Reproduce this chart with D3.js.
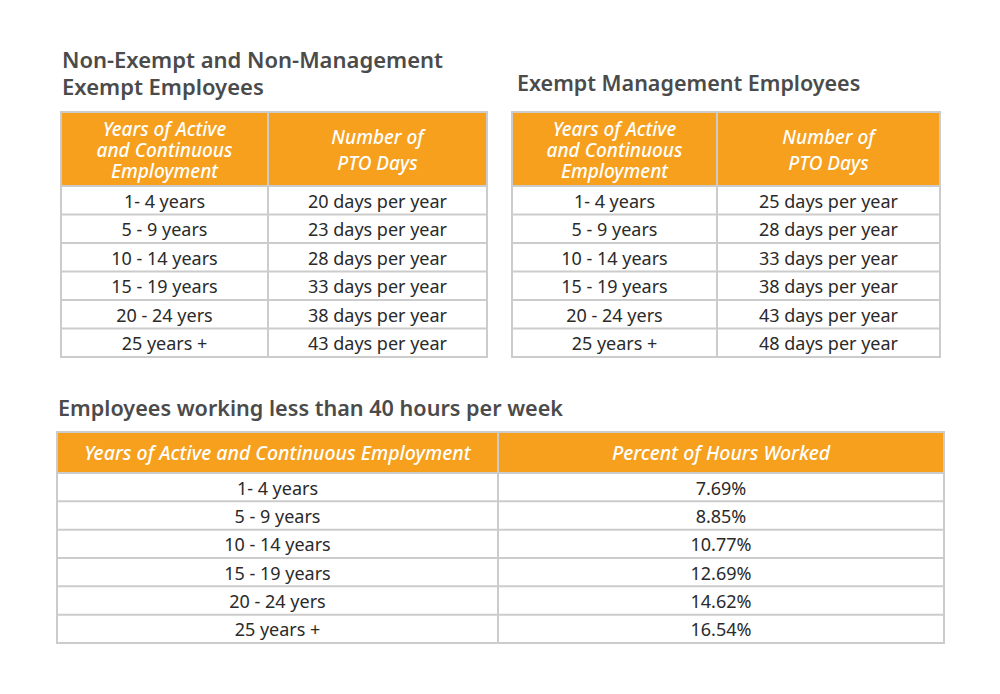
<!DOCTYPE html>
<html>
<head>
<meta charset="utf-8">
<script src="https://cdn.jsdelivr.net/npm/d3@7"></script>
<style>
  body { margin: 0; background: #fff; }
  svg { display: block; font-family: "Noto Sans", "Open Sans", sans-serif; }
</style>
</head>
<body>
<div id="chart-area"></div>
<script>
// data
let years = ["1- 4 years", "5 - 9 years", "10 - 14 years", "15 - 19 years", "20 - 24 yers", "25 years +"];
let nonExemptDays = [20, 23, 28, 33, 38, 43];
let managementDays = [25, 28, 33, 38, 43, 48];
let percentHours = [7.69, 8.85, 10.77, 12.69, 14.62, 16.54];

let headYears = ["Years of Active", "and Continuous", "Employment"];
let headDays = ["Number of", "PTO Days"];
let headYearsWide = ["Years of Active and Continuous Employment"];
let headPercent = ["Percent of Hours Worked"];

let W = 1000, H = 694;
let orange = "#f6a01e";
let grid = "#cccccc";
let ink = "#2a2a2a";
let titleInk = "#4b4b4b";

let svg = d3.select("#chart-area")
    .append("svg")
    .attr("width", W)
    .attr("height", H);

function dayFmt(d) { return d + " days per year"; }
function pctFmt(d) { return d.toFixed(2) + "%"; }

// one table: header + 6 rows
function drawTable(t) {
  let g = svg.append("g");

  // columns
  let x = d3.scaleOrdinal().domain([0, 1]).range([t.left, t.split]);
  let colW = [t.split - t.left, t.right - t.split];

  // rows
  let y = d3.scaleBand()
      .domain(years)
      .range([t.headBottom, t.bottom]);

  // header
  g.append("rect")
      .attr("x", t.left).attr("y", t.top)
      .attr("width", t.right - t.left).attr("height", t.headBottom - t.top)
      .attr("fill", orange);

  [t.head1, t.head2].forEach(function(lines, c) {
    let cx = x(c) + colW[c] / 2;
    let cy = (t.top + t.headBottom) / 2 + 1;
    let lh = t.headLine[c];
    g.selectAll(null)
        .data(lines)
        .enter()
        .append("text")
        .attr("x", cx)
        .attr("y", function(d, i) { return cy + (i - (lines.length - 1) / 2) * lh; })
        .attr("dy", "0.35em")
        .attr("text-anchor", "middle")
        .attr("fill", "#fff")
        .attr("font-size", t.headSize)
        .attr("font-style", "italic")
        .attr("font-weight", 500)
        .text(function(d) { return d; });
  });

  // body cells
  g.selectAll(".c1")
      .data(years)
      .enter()
      .append("text")
      .attr("x", x(0) + colW[0] / 2)
      .attr("y", function(d) { return y(d) + y.bandwidth() / 2; })
      .attr("dy", "0.42em")
      .attr("text-anchor", "middle")
      .attr("fill", ink)
      .attr("font-size", t.bodySize)
      .text(function(d) { return d; });

  g.selectAll(".c2")
      .data(t.values)
      .enter()
      .append("text")
      .attr("x", x(1) + colW[1] / 2)
      .attr("y", function(d, i) { return y(years[i]) + y.bandwidth() / 2; })
      .attr("dy", "0.42em")
      .attr("text-anchor", "middle")
      .attr("fill", ink)
      .attr("font-size", t.bodySize)
      .text(t.fmt);

  // grid lines
  g.selectAll(".hl")
      .data(years.slice(1))
      .enter()
      .append("line")
      .attr("x1", t.left).attr("x2", t.right)
      .attr("y1", function(d) { return y(d); })
      .attr("y2", function(d) { return y(d); })
      .attr("stroke", grid).attr("stroke-width", 2);

  g.append("line")
      .attr("x1", t.left).attr("x2", t.right)
      .attr("y1", t.headBottom).attr("y2", t.headBottom)
      .attr("stroke", grid).attr("stroke-width", 2);

  g.append("line")
      .attr("x1", t.split).attr("x2", t.split)
      .attr("y1", t.top).attr("y2", t.bottom)
      .attr("stroke", grid).attr("stroke-width", 2);

  g.append("rect")
      .attr("x", t.left).attr("y", t.top)
      .attr("width", t.right - t.left).attr("height", t.bottom - t.top)
      .attr("fill", "none")
      .attr("stroke", grid).attr("stroke-width", 2);
}

// titles
function title(lines, x0, y0, size) {
  svg.selectAll(null)
      .data(lines)
      .enter()
      .append("text")
      .attr("x", x0)
      .attr("y", function(d, i) { return y0 + i * 27; })
      .attr("fill", titleInk)
      .attr("font-size", size)
      .attr("font-weight", 600)
      .text(function(d) { return d; });
}

title(["Non-Exempt and Non-Management", "Exempt Employees"], 62, 68, 22);
title(["Exempt Management Employees"], 517, 91, 21.5);
title(["Employees working less than 40 hours per week"], 58, 416, 21.6);

drawTable({
  left: 61, right: 487, split: 268, top: 112, headBottom: 186, bottom: 357,
  head1: headYears, head2: headDays, headLine: [21, 26], headSize: 19,
  values: nonExemptDays, fmt: dayFmt, bodySize: 18
});

drawTable({
  left: 512, right: 940, split: 717, top: 112, headBottom: 186, bottom: 357,
  head1: headYears, head2: headDays, headLine: [21, 26], headSize: 19,
  values: managementDays, fmt: dayFmt, bodySize: 18
});

drawTable({
  left: 57, right: 944, split: 498, top: 432, headBottom: 473, bottom: 643,
  head1: headYearsWide, head2: headPercent, headLine: [21, 21], headSize: 19.5,
  values: percentHours, fmt: pctFmt, bodySize: 18
});
</script>
</body>
</html>
